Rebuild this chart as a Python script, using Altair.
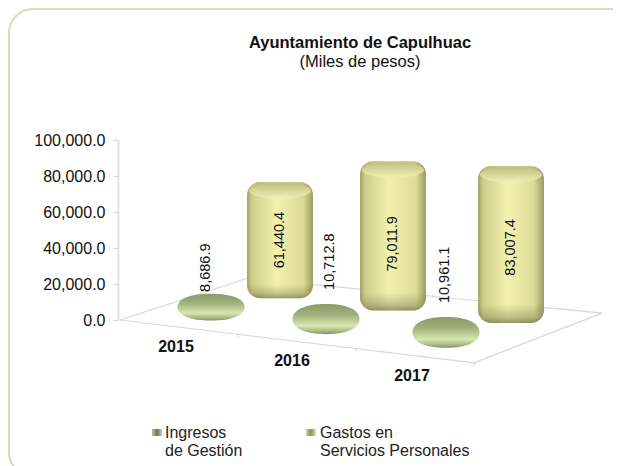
import altair as alt
import pandas as pd

years = ["2015", "2016", "2017"]
ingresos = [8686.9, 10712.8, 10961.1]
gastos = [61440.4, 79011.9, 83007.4]
axis_ticks = [0, 20000, 40000, 60000, 80000, 100000]
legend_line1 = ["Ingresos", "Gastos en"]
legend_line2 = ["de Gestión", "Servicios Personales"]

# ---- layout constants (page pixels) ----
LEFT, TOP = 118, 140
PX_PER_UNIT = 180 / 100000
WIDTH = 613 - LEFT
HEIGHT = 180
PAD = {"left": LEFT - 8, "top": TOP - 8, "right": 0, "bottom": 466 - TOP - HEIGHT}
CYL_NUDGE = [5, 0, 0]
DISC_NUDGE = [0, -3, -1]
DISC_LABEL_DX = [-5, 4, -1]
DISC_LABEL_LIFT = [2, 14, 14]
CYL_LABEL_SHIFT = [0, -8, -3]
LEGEND_TEXT_X = [165, 320]
LEGEND_SWATCH_X = [152, 306]


def proj(u, v):
    """floor coords -> (x chart units, y value units)"""
    px = 2 + 118 * u + 128 * v
    py = 14.3 * u - 42 * v - 2.6 * u * v
    return px, -py / PX_PER_UNIT


X = alt.Scale(domain=[0, WIDTH], range=[0, WIDTH], nice=False, zero=False)
Y = alt.Scale(domain=[0, 100000], range=[HEIGHT, 0], nice=False, zero=False)
AXIS = alt.Axis(
    values=axis_ticks, format=",.1f", title=None, grid=False,
    domainColor="#e2e2e2", domainWidth=2, tickColor="#d8d8c4", tickSize=5, tickWidth=1.2,
    labelFont="Liberation Sans", labelFontSize=16, labelColor="#111111", labelPadding=8)


def xq(f):
    return alt.X(f, type="quantitative", scale=X, axis=None)


def yq(f):
    return alt.Y(f, type="quantitative", scale=Y, axis=AXIS)


def ell(ratio, k=0.5523):
    r = ratio
    return (f"M-1,0C-1,{-k*r:.3f},{-k:.3f},{-r:.3f},0,{-r:.3f}C{k:.3f},{-r:.3f},1,{-k*r:.3f},1,0"
            f"C1,{k*r:.3f},{k:.3f},{r:.3f},0,{r:.3f}C{-k:.3f},{r:.3f},-1,{k*r:.3f},-1,0Z")


U = 1 / PX_PER_UNIT
CYL_W = 66
DISC_W = 67
CAP_RATIO = 0.25
PERSPECTIVE = 1.05

cyl, disc = [], []
for i, y in enumerate(years):
    cx, base = proj(i + 0.5, 0.75)
    cx += CYL_NUDGE[i]
    bottom = base - 3.5 * U
    top = bottom + gastos[i] * PERSPECTIVE
    cyl.append(dict(year=y, value=gastos[i], x=cx, x0=cx - CYL_W / 2, x1=cx + CYL_W / 2,
                    y0=bottom, y1=top,
                    cap=top - (CYL_W - 4) / 2 * CAP_RATIO * U - 1 * U,
                    mid=(bottom + top) / 2 + CYL_LABEL_SHIFT[i] * U,
                    label=f"{gastos[i]:,.1f}"))
    dx, dbase = proj(i + 0.5, 0.25)
    dx += DISC_NUDGE[i]
    h = ingresos[i] * PX_PER_UNIT + 11
    cy = dbase + ingresos[i] / 2 + 1.3 * U
    ptop = cy + h / 2 * U
    disc.append(dict(year=y, value=ingresos[i], x=dx, y=cy,
                     shape=ell(h / DISC_W, 0.62), top=ptop + DISC_LABEL_LIFT[i] * U,
                     lx=dx + DISC_LABEL_DX[i], label=f"{ingresos[i]:,.1f}"))
cyl = pd.DataFrame(cyl)
disc = pd.DataFrame(disc)

floor_pts = [(0, 0), (3, 0), (3, 1), (0, 1), (0, 0)]
floor = pd.DataFrame([{"x": proj(u, v)[0], "y": proj(u, v)[1], "o": n} for n, (u, v) in enumerate(floor_pts)])

floor_ticks = pd.DataFrame([
    {"x": proj(u, 0)[0], "y": proj(u, 0)[1], "y2": proj(u, 0)[1] - 2.5 * U} for u in (1, 2, 3)
])

year_pos = pd.DataFrame([
    {"year": y, "x": proj(i + 0.5, 0)[0] - 3 - (2 if i == 1 else 0), "y": proj(i + 0.5, 0)[1] - 20 * U}
    for i, y in enumerate(years)
])

GOLD = alt.Gradient(gradient="linear", x1=0, x2=1, y1=0, y2=0, stops=[
    alt.GradientStop(offset=0, color="#a3a368"),
    alt.GradientStop(offset=0.08, color="#cfcf8c"),
    alt.GradientStop(offset=0.45, color="#f2f2ae"),
    alt.GradientStop(offset=0.85, color="#dcdc98"),
    alt.GradientStop(offset=1, color="#9c9c62"),
])
SHADE = alt.Gradient(gradient="linear", x1=0, x2=0, y1=0, y2=1, stops=[
    alt.GradientStop(offset=0, color="rgba(130,130,80,0.35)"),
    alt.GradientStop(offset=0.1, color="rgba(130,130,80,0)"),
    alt.GradientStop(offset=0.88, color="rgba(110,110,70,0)"),
    alt.GradientStop(offset=0.96, color="rgba(110,110,70,0.35)"),
    alt.GradientStop(offset=1, color="rgba(90,90,55,0.6)"),
])
CAP = alt.Gradient(gradient="linear", x1=0, x2=0, y1=0, y2=1, stops=[
    alt.GradientStop(offset=0, color="#c0c084"),
    alt.GradientStop(offset=0.6, color="#dcdc9c"),
    alt.GradientStop(offset=1, color="#f0f0b4"),
])
GREEN = alt.Gradient(gradient="linear", x1=0, x2=0, y1=0, y2=1, stops=[
    alt.GradientStop(offset=0, color="#8a9a68"),
    alt.GradientStop(offset=0.35, color="#a0b07c"),
    alt.GradientStop(offset=0.72, color="#d8e6b0"),
    alt.GradientStop(offset=0.9, color="#a9b985"),
    alt.GradientStop(offset=1, color="#7f8e62"),
])
SW_GREEN = alt.Gradient(gradient="linear", x1=0, x2=1, y1=0, y2=0, stops=[
    alt.GradientStop(offset=0, color="#b9c7a0"),
    alt.GradientStop(offset=0.5, color="#69794c"),
    alt.GradientStop(offset=1, color="#c7d5a8"),
])
SW_GOLD = alt.Gradient(gradient="linear", x1=0, x2=1, y1=0, y2=0, stops=[
    alt.GradientStop(offset=0, color="#d0d09a"),
    alt.GradientStop(offset=0.5, color="#8f8f50"),
    alt.GradientStop(offset=1, color="#e6e69c"),
])

base = alt.Chart(pd.DataFrame({"k": [0]}))

frame = base.mark_rect(fillOpacity=0, stroke="#d9d9c6", strokeWidth=2, cornerRadius=24).encode(
    x=alt.value(9 - LEFT), x2=alt.value(700 - LEFT), y=alt.value(9 - TOP), y2=alt.value(476 - TOP)
)

axis_layer = alt.Chart(pd.DataFrame({"v": axis_ticks})).mark_rule(opacity=0).encode(y=yq("v"))

floor_line = alt.Chart(floor).mark_line(color="#d6d6d6", strokeWidth=1.2, clip=False).encode(
    x=xq("x"), y=yq("y"), order="o:Q"
)
ticks = alt.Chart(floor_ticks).mark_rule(color="#d2d2bc", clip=False).encode(
    x=xq("x"), y=yq("y"), y2="y2:Q"
)

cyl_body = alt.Chart(cyl).mark_bar(fill=GOLD, cornerRadius=13, clip=False).encode(
    x=xq("x0"), x2="x1:Q", y=yq("y0"), y2="y1:Q"
)
cyl_shade = alt.Chart(cyl).mark_bar(fill=SHADE, cornerRadius=13, clip=False).encode(
    x=xq("x0"), x2="x1:Q", y=yq("y0"), y2="y1:Q"
)
cyl_cap = alt.Chart(cyl).mark_point(fill=CAP, filled=True, opacity=1, strokeWidth=0, clip=False,
                                    shape=ell(CAP_RATIO), size=(CYL_W - 4) ** 2).encode(
    x=xq("x"), y=yq("cap")
)
cyl_text = alt.Chart(cyl).mark_text(angle=270, font="Liberation Sans", fontSize=14.5, color="#111111", clip=False).encode(
    x=xq("x"), y=yq("mid"), text="label:N"
)

disc_mark = alt.Chart(disc).mark_point(fill=GREEN, filled=True, opacity=1, strokeWidth=0, clip=False,
                                       size=DISC_W ** 2).encode(
    x=xq("x"), y=yq("y"), shape=alt.Shape("shape:N", scale=None, legend=None)
)
disc_text = alt.Chart(disc).mark_text(angle=270, align="left", baseline="middle",
                                      font="Liberation Sans", fontSize=14.5, color="#111111", clip=False).encode(
    x=xq("lx"), y=yq("top"), text="label:N"
)

year_text = alt.Chart(year_pos).mark_text(font="Liberation Sans", fontWeight="bold", fontSize=16, color="#111111", clip=False).encode(
    x=xq("x"), y=yq("y"), text="year:N"
)

title1 = base.mark_text(font="Liberation Sans", fontWeight="bold", fontSize=16.5, color="#111111", align="center").encode(
    x=alt.value(360 - LEFT), y=alt.value(43 - TOP), text=alt.value("Ayuntamiento de Capulhuac")
)
title2 = base.mark_text(font="Liberation Sans", fontSize=16.5, color="#111111", align="center").encode(
    x=alt.value(360 - LEFT), y=alt.value(62 - TOP), text=alt.value("(Miles de pesos)")
)

legend_df = pd.DataFrame({
    "a": legend_line1, "b": legend_line2,
    "x": [v - LEFT for v in LEGEND_TEXT_X],
    "sx": [v - LEFT for v in LEGEND_SWATCH_X],
    "sx2": [v - LEFT + 10 for v in LEGEND_SWATCH_X],
})
leg_a = alt.Chart(legend_df).mark_text(font="Liberation Sans", fontSize=16, align="left", color="#222222", clip=False).encode(
    x=xq("x"), y=alt.value(433 - TOP), text="a:N")
leg_b = alt.Chart(legend_df).mark_text(font="Liberation Sans", fontSize=16, align="left", color="#222222", clip=False).encode(
    x=xq("x"), y=alt.value(451 - TOP), text="b:N")
sw1 = alt.Chart(legend_df.iloc[[0]]).mark_rect(fill=SW_GREEN, clip=False).encode(
    x=xq("sx"), x2="sx2:Q", y=alt.value(429 - TOP), y2=alt.value(436 - TOP))
sw2 = alt.Chart(legend_df.iloc[[1]]).mark_rect(fill=SW_GOLD, clip=False).encode(
    x=xq("sx"), x2="sx2:Q", y=alt.value(429 - TOP), y2=alt.value(436 - TOP))

chart = alt.layer(
    frame, axis_layer, floor_line, ticks, cyl_body, cyl_shade, cyl_cap, disc_mark, cyl_text, disc_text,
    year_text, title1, title2, sw1, sw2, leg_a, leg_b
).properties(
    width=WIDTH, height=HEIGHT, padding=PAD, autosize=alt.AutoSizeParams(type="none"),
    background="white"
).configure_view(stroke=None)

chart.save("out.html", embed_options={"renderer": "svg", "actions": False})
